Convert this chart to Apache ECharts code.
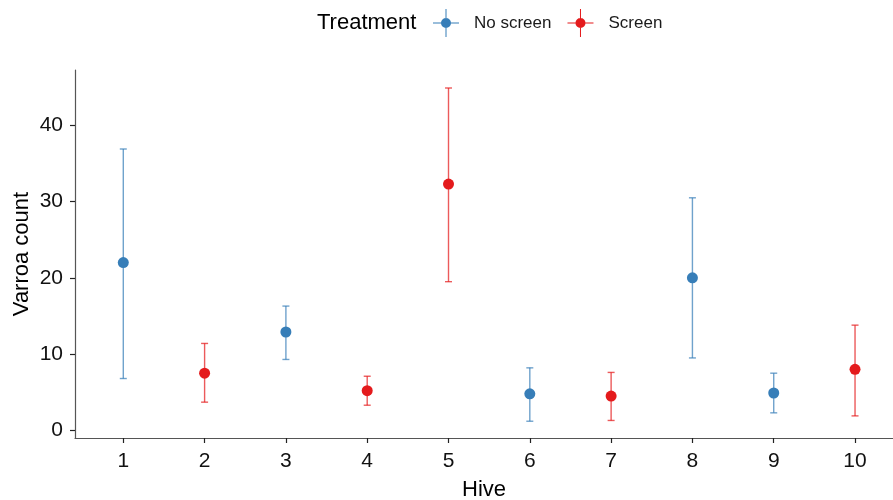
<!DOCTYPE html>
<html>
<head>
<meta charset="utf-8">
<script src="https://cdn.jsdelivr.net/npm/echarts@6/dist/echarts.min.js"></script>
<style>
  html, body { margin: 0; padding: 0; background: #fff; }
  #chart { width: 893px; height: 500px; }
</style>
</head>
<body>
<div id="chart"></div>
<script>
// values
var hives = [1, 2, 3, 4, 5, 6, 7, 8, 9, 10]
var treatment = ['No screen', 'Screen', 'No screen', 'Screen', 'Screen', 'No screen', 'Screen', 'No screen', 'No screen', 'Screen']
var meanCount = [22.0, 7.5, 12.9, 5.2, 32.3, 4.8, 4.5, 20.0, 4.9, 8.0]
var lowerCount = [6.8, 3.7, 9.3, 3.3, 19.5, 1.2, 1.3, 9.5, 2.3, 1.9]
var upperCount = [36.9, 11.4, 16.3, 7.1, 44.9, 8.2, 7.6, 30.5, 7.5, 13.8]
var groups = ['No screen', 'Screen']
var groupColors = ['#377EB8', '#E41A1C']
var yTicks = [0, 10, 20, 30, 40]

var font = 'Liberation Sans, Arial, sans-serif'
// point with crossing error bar, like the ggplot legend key
var keyIcon = 'path://M12.5,0h1v28h-1Z M0,13.5h26v1h-26Z M8,14a5,5 0 1,1 10,0a5,5 0 1,1 -10,0Z'

function rowsFor (g) {
  var rows = []
  hives.forEach(function (h, i) {
    if (treatment[i] === g) rows.push([h, meanCount[i], lowerCount[i], upperCount[i]])
  })
  return rows
}

function errorBar (color) {
  return function (params, api) {
    var x = api.value(0)
    var lo = api.coord([x, api.value(2)])
    var hi = api.coord([x, api.value(3)])
    var w = 3.5
    var style = { stroke: color, lineWidth: 1.4, opacity: 0.72 }
    return {
      type: 'group',
      children: [
        { type: 'line', shape: { x1: lo[0], y1: lo[1], x2: hi[0], y2: hi[1] }, style: style },
        { type: 'line', shape: { x1: hi[0] - w, y1: hi[1], x2: hi[0] + w, y2: hi[1] }, style: style },
        { type: 'line', shape: { x1: lo[0] - w, y1: lo[1], x2: lo[0] + w, y2: lo[1] }, style: style }
      ]
    }
  }
}

var series = []
groups.forEach(function (g, k) {
  var rows = rowsFor(g)
  series.push({
    name: g,
    type: 'custom',
    renderItem: errorBar(groupColors[k]),
    encode: { x: 0, y: [2, 3] },
    data: rows,
    z: 2
  })
  series.push({
    name: g,
    type: 'scatter',
    symbolSize: 11,
    itemStyle: { color: groupColors[k], opacity: 1 },
    data: rows.map(function (r) { return [r[0], r[1]] }),
    z: 3
  })
})

var chart = echarts.init(document.getElementById('chart'), null, { renderer: 'canvas' })
chart.setOption({
  animation: false,
  color: groupColors,
  title: {
    text: 'Treatment',
    left: 312,
    top: 7,
    textStyle: { fontFamily: font, fontSize: 22, fontWeight: 'normal', color: '#000' }
  },
  legend: {
    data: groups.map(function (g) { return { name: g, icon: keyIcon } }),
    left: 428,
    top: 4,
    itemWidth: 26,
    itemHeight: 28,
    itemGap: 16,
    textStyle: { fontFamily: font, fontSize: 17, color: '#1a1a1a', padding: [0, 0, 0, 10] }
  },
  grid: { left: 75, right: 0, top: 70, bottom: 62, outerBoundsMode: 'none' },
  xAxis: {
    type: 'value',
    min: 0.406,
    max: 10.467,
    name: 'Hive',
    nameLocation: 'middle',
    nameGap: 41,
    nameMoveOverlap: false,
    nameTextStyle: { fontFamily: font, fontSize: 22, color: '#000' },
    splitLine: { show: false },
    axisLine: { onZero: false, lineStyle: { color: '#555', width: 1.2 } },
    axisTick: { customValues: hives, length: 5, lineStyle: { color: '#222', width: 1.2 } },
    axisLabel: { customValues: hives, margin: 13, fontFamily: font, fontSize: 21, color: '#111' }
  },
  yAxis: {
    type: 'value',
    min: -1.0,
    max: 47.26,
    name: 'Varroa count',
    nameLocation: 'middle',
    nameGap: 42,
    nameMoveOverlap: false,
    nameTextStyle: { fontFamily: font, fontSize: 22, color: '#000' },
    splitLine: { show: false },
    axisLine: { show: true, onZero: false, lineStyle: { color: '#555', width: 1.2 } },
    axisTick: { show: true, customValues: yTicks, length: 5, lineStyle: { color: '#222', width: 1.2 } },
    axisLabel: { customValues: yTicks, margin: 12, fontFamily: font, fontSize: 21, color: '#111' }
  },
  series: series
})
</script>
</body>
</html>
